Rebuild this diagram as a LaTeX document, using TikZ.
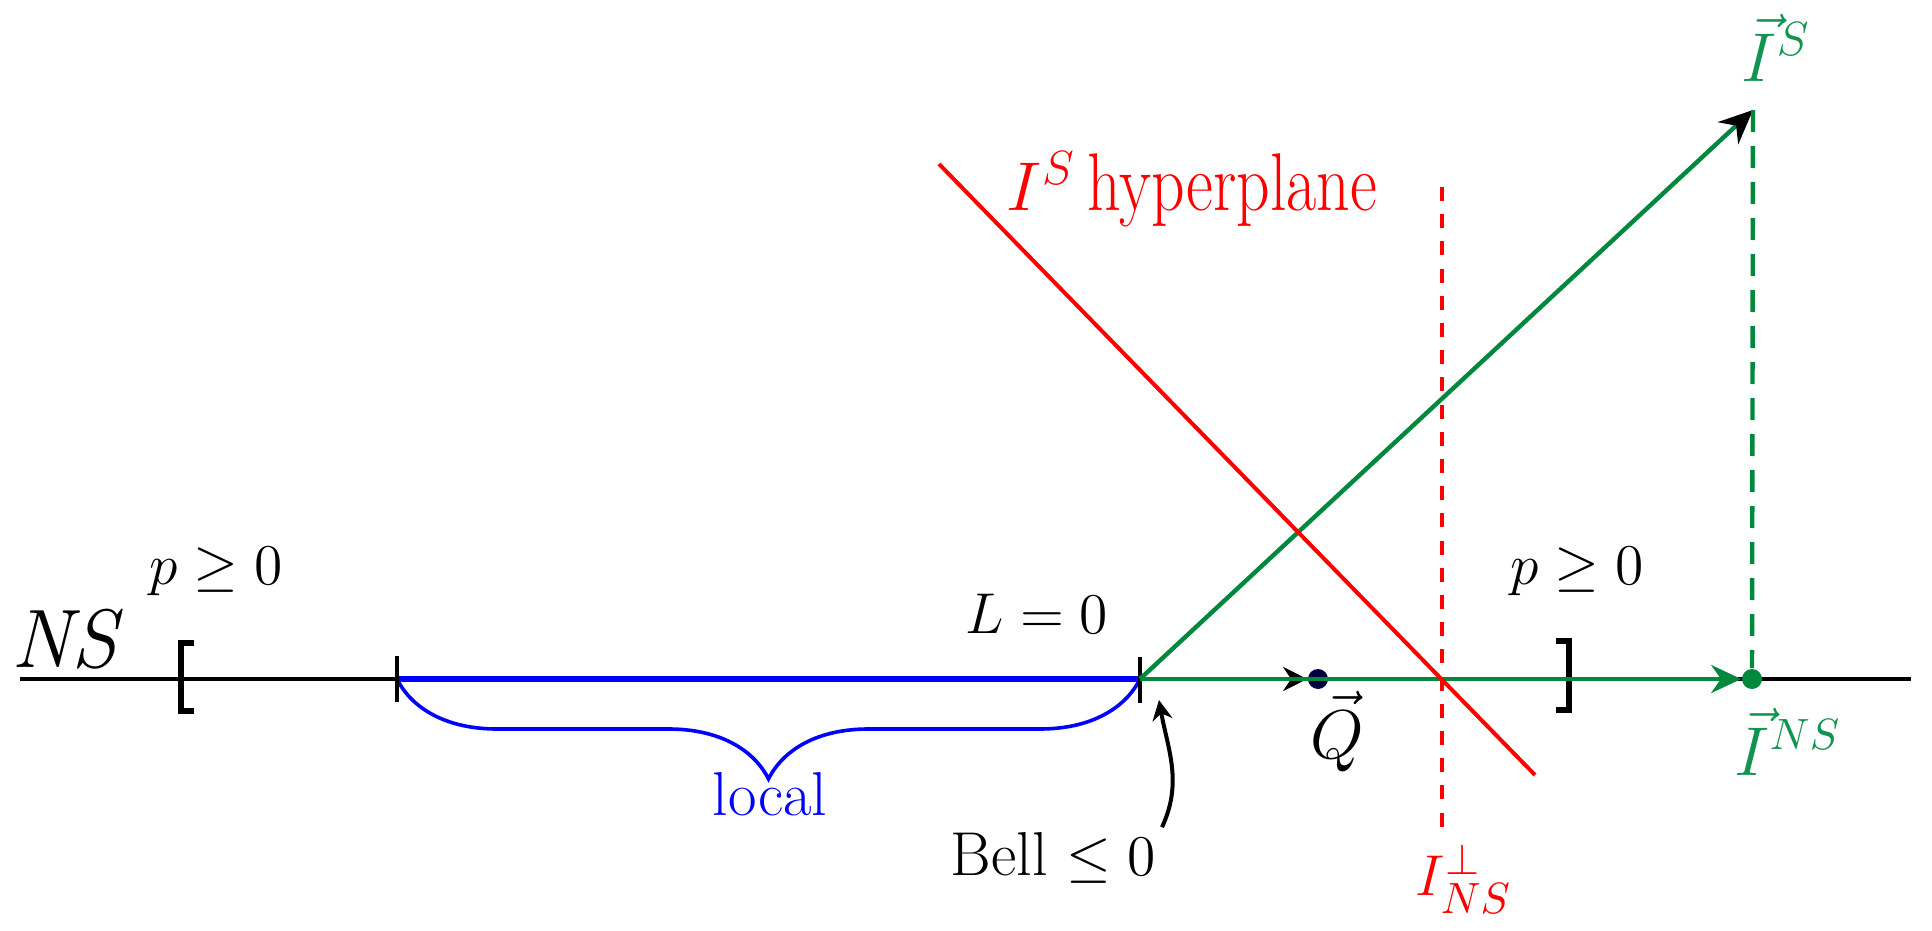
\documentclass[tikz,border=0pt]{standalone}
\usepackage{amsmath}
\usepackage{graphicx}
\usetikzlibrary{arrows.meta,decorations.pathreplacing}
\definecolor{mygreen}{RGB}{0,136,60}
\definecolor{labgreen}{RGB}{16,148,80}
\definecolor{navy}{RGB}{0,0,64}
\begin{document}
\begin{tikzpicture}[x=0.25pt,y=-0.25pt,
  txt/.style={inner sep=0pt, anchor=base, font=\fontsize{15.5}{18}\selectfont},
  axisline/.style={line width=1.05pt, black},
  tickmark/.style={line width=1pt, black},
  bracketline/.style={line width=1.7pt, black},
  localseg/.style={line width=1.3pt, blue},
  bracestyle/.style={blue, line width=0.9pt, decorate, decoration={brace, mirror, amplitude=25pt}},
  greenline/.style={line width=1.1pt, mygreen},
  redline/.style={line width=1pt, red},
  dotnode/.style={circle, inner sep=0pt, minimum size=5pt},
]
\useasboundingbox (0,0) rectangle (1932,931);
\coordinate (axL) at (20,679);
\coordinate (axR) at (1911,679);
\coordinate (t1) at (397,679);
\coordinate (t2) at (1140,679);
\coordinate (IS) at (1753,110);
\coordinate (t2b) at (1159,700);
\coordinate (hypA) at (939,164);
\coordinate (hypB) at (1535,775);
\coordinate (perpA) at (1442,187);
\coordinate (perpB) at (1442,831);
% axis
\draw[axisline] (axL) -- (axR);
% local segment
\draw[localseg] (t1) -- (t2);
\draw[bracestyle] (t1) -- (t2);
% ticks and brackets
\draw[tickmark] (397,656) -- (397,702);
\draw[tickmark] (1140,657) -- (1140,703);
\draw[bracketline] (194,643) -- (181,643) -- (181,711) -- (194,711);
\draw[bracketline] (1556,641) -- (1569,641) -- (1569,710) -- (1556,710);
% Q point and arrow
\node[dotnode, fill=navy] (Q) at (1318,679) {};
\draw[line width=1pt, black, -{Stealth[length=6pt,width=6pt]}] (t2) -- (Q);
% green vectors
\node[dotnode, fill=mygreen] (INS) at (1752,679) {};
\draw[greenline, -{Stealth[black,length=8.5pt,width=7.5pt]}] (t2) -- (IS);
\draw[greenline, -{Stealth[mygreen,length=7.5pt,width=7pt]}] (t2) -- (INS);
\draw[greenline, dash pattern=on 5.5pt off 3.5pt] (IS) -- (INS);
% red lines
\draw[redline] (hypA) -- (hypB);
\draw[redline, dash pattern=on 3.5pt off 3.3pt] (perpA) -- (perpB);
% labels
\node[txt, font=\fontsize{19.5}{22}\selectfont] (NS) at (69,667) {$\mathit{NS}$};
\node[txt] (pL) at (216,584) {$p \geq 0$};
\node[txt] (pR) at (1577,584) {$p \geq 0$};
\node[txt] (L0) at (1037,633) {$L=0$};
\node[txt, blue] (loc) at (770,815) {local};
\node[txt] (Bell) at (1053,875) {Bell $\leq 0$};
\node[txt, font=\fontsize{16}{18}\selectfont] (Qlab) at (1337,758) {$\vec{Q}$};
\node[txt, labgreen, font=\fontsize{16.5}{18}\selectfont] (ISlab) at (1776,81) {$\vec{I}^{S}$};
\node[txt, labgreen, font=\fontsize{16}{18}\selectfont] (INSlab) at (1788,775) {$\vec{I}^{NS}$};
\node[txt, red] (perplab) at (1464,895) {$I^{\perp}_{NS}$};
\node[txt, red, font=\fontsize{17.5}{20}\selectfont] (hyplab) at (1192,210) {$I^{S}$\,\scalebox{0.94}[1.17]{hyperplane}};
% Bell arrow
\draw[line width=1pt, black, -{Stealth[length=5pt,width=5pt]}] ([xshift=1.5pt,yshift=1pt]Bell.north east) to[out=65,in=-80] (t2b);
\end{tikzpicture}
\end{document}
